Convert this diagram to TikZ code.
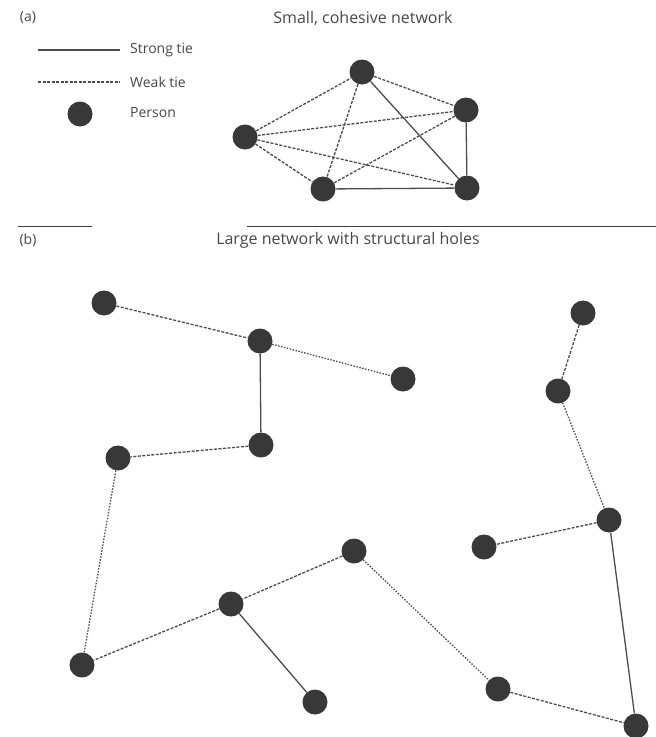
\documentclass[tikz,border=0pt]{standalone}
\usepackage{fontspec}
\setmainfont{Open Sans}
\begin{document}
\begin{tikzpicture}[x=1pt,y=-1pt,
  person/.style={circle,fill=black!78,inner sep=0pt,minimum size=25pt},
  strongtie/.style={draw=black!70,line width=1.3pt},
  weaktie/.style={draw=black!70,line width=1.3pt,dash pattern=on 3pt off 1.5pt},
  dottie/.style={draw=black!70,line width=1.3pt,dash pattern=on 1.5pt off 1.5pt},
  lbl/.style={inner sep=0pt,text=black!72,font=\fontsize{14}{16}\selectfont},
  ttl/.style={inner sep=0pt,text=black!72,font=\fontsize{16}{18}\selectfont}]
\useasboundingbox (0,0) rectangle (656,737);
% panel (a)
\node[lbl] (la) at (28,18) {(a)};
\node[ttl] (ta) at (363,18) {Small, cohesive network};
\coordinate (s1) at (38,50); \coordinate (s2) at (120,50);
\draw[strongtie] (s1) -- (s2);
\node[lbl,anchor=west] (strong) at (130,50) {Strong tie};
\coordinate (w1) at (38,82); \coordinate (w2) at (120,82);
\draw[weaktie] (w1) -- (w2);
\node[lbl,anchor=west] (weak) at (130,82) {Weak tie};
\node[person] (lp) at (80,114) {};
\node[lbl,anchor=west] (pers) at (130,113) {Person};
\node[person] (T) at (362,72) {};
\node[person] (R) at (466,110) {};
\node[person] (L) at (245,137) {};
\node[person] (B) at (323,189) {};
\node[person] (BR) at (467,188) {};
\draw[weaktie] (L) -- (T);
\draw[weaktie] (L) -- (R);
\draw[weaktie] (L) -- (B);
\draw[weaktie] (L) -- (BR);
\draw[weaktie] (T) -- (R);
\draw[weaktie] (T) -- (B);
\draw[strongtie] (T) -- (BR);
\draw[weaktie] (R) -- (B);
\draw[strongtie] (R) -- (BR);
\draw[strongtie] (B) -- (BR);
% separator
\coordinate (d1) at (18,226); \coordinate (d2) at (92,226);
\coordinate (d3) at (247,226); \coordinate (d4) at (656,226);
\draw[black!75,line width=1pt] (d1) -- (d2);
\draw[black!75,line width=1pt] (d3) -- (d4);
% panel (b)
\node[lbl] (lb) at (28,240) {(b)};
\node[ttl] (tb) at (348,240) {Large network with structural holes};
\node[person] (n1) at (104,303) {};
\node[person] (n2) at (260,341) {};
\node[person] (n3) at (403,379) {};
\node[person] (n4) at (261,445) {};
\node[person] (n5) at (118,458) {};
\node[person] (n6) at (583,313) {};
\node[person] (n7) at (558,391) {};
\node[person] (n8) at (609,520) {};
\node[person] (n9) at (484,547) {};
\node[person] (n10) at (354,551) {};
\node[person] (n11) at (231,604) {};
\node[person] (n12) at (82,665) {};
\node[person] (n13) at (315,702) {};
\node[person] (n14) at (498,689) {};
\node[person] (n15) at (636,726) {};
\draw[weaktie] (n1) -- (n2);
\draw[dottie] (n2) -- (n3);
\draw[strongtie] (n2) -- (n4);
\draw[weaktie] (n4) -- (n5);
\draw[dottie] (n5) -- (n12);
\draw[weaktie] (n6) -- (n7);
\draw[dottie] (n7) -- (n8);
\draw[weaktie] (n8) -- (n9);
\draw[strongtie] (n8) -- (n15);
\draw[weaktie] (n10) -- (n11);
\draw[weaktie] (n11) -- (n12);
\draw[strongtie] (n11) -- (n13);
\draw[dottie] (n10) -- (n14);
\draw[weaktie] (n14) -- (n15);
\end{tikzpicture}
\end{document}
